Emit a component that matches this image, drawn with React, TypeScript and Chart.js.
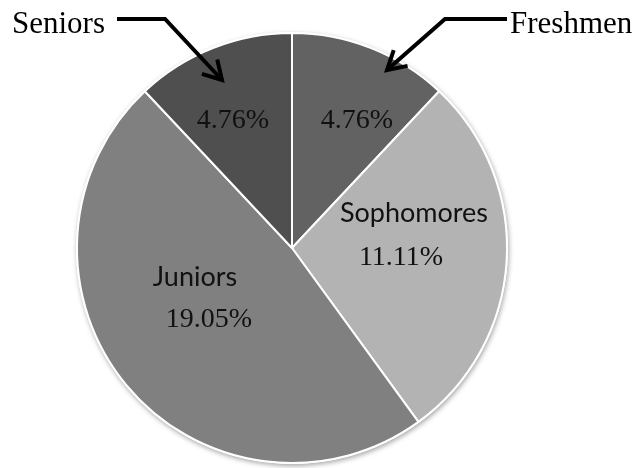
import React, { useEffect, useRef } from "react";
import { Chart, registerables } from "chart.js";

Chart.register(...registerables);

const categories = ["Freshmen", "Sophomores", "Juniors", "Seniors"];
const percentValues = [4.76, 11.11, 19.05, 4.76];
const percentLabels = ["4.76%", "11.11%", "19.05%", "4.76%"];
const sliceColors = ["#626262", "#b3b3b3", "#808080", "#4f4f4f"];

const SERIF = '"Liberation Serif"';
const SANS = "Lato";

// label placement relative to the pie centre (px): [nameDx, nameDy, pctDx, pctDy, showName]
const labelOffsets: Array<[number, number, number, number, boolean]> = [
  [0, 0, 65, -120, false],
  [122, -26, 109, 17, true],
  [-97, 38, -83, 79, true],
  [0, 0, -59, -120, false],
];

const shadowPlugin = {
  id: "pieShadow",
  beforeDatasetsDraw(chart: any) {
    const arc = chart.getDatasetMeta(0).data[0];
    if (!arc) return;
    const { x, y, outerRadius } = arc;
    const ctx = chart.ctx;
    ctx.save();
    ctx.shadowColor = "rgba(0,0,0,0.35)";
    ctx.shadowBlur = 5;
    ctx.shadowOffsetX = 1;
    ctx.shadowOffsetY = 2;
    ctx.fillStyle = "#ffffff";
    ctx.beginPath();
    ctx.arc(x, y, outerRadius + 1, 0, Math.PI * 2);
    ctx.fill();
    ctx.restore();
  },
};

function drawArrow(ctx: CanvasRenderingContext2D, pts: number[][]) {
  ctx.beginPath();
  ctx.moveTo(pts[0][0], pts[0][1]);
  for (let i = 1; i < pts.length; i++) ctx.lineTo(pts[i][0], pts[i][1]);
  ctx.stroke();
  const [tx, ty] = pts[pts.length - 1];
  const [px, py] = pts[pts.length - 2];
  const ang = Math.atan2(py - ty, px - tx);
  const len = 21;
  const spread = (30 * Math.PI) / 180;
  ctx.beginPath();
  ctx.moveTo(tx + len * Math.cos(ang - spread), ty + len * Math.sin(ang - spread));
  ctx.lineTo(tx, ty);
  ctx.lineTo(tx + len * Math.cos(ang + spread), ty + len * Math.sin(ang + spread));
  ctx.stroke();
}

const labelPlugin = {
  id: "pieLabels",
  afterDraw(chart: any) {
    const meta = chart.getDatasetMeta(0);
    const ctx: CanvasRenderingContext2D = chart.ctx;
    ctx.save();
    ctx.fillStyle = "#111";
    ctx.textAlign = "center";
    ctx.textBaseline = "alphabetic";
    meta.data.forEach((arc: any, i: number) => {
      const [ndx, ndy, pdx, pdy, showName] = labelOffsets[i];
      ctx.font = "28px " + SERIF;
      ctx.fillText(percentLabels[i], arc.x + pdx, arc.y + pdy);
      if (showName) {
        ctx.font = "27px " + SANS;
        ctx.fillText(categories[i], arc.x + ndx, arc.y + ndy);
      }
    });

    // callouts
    ctx.fillStyle = "#000";
    ctx.font = "31px " + SERIF;
    ctx.textAlign = "left";
    ctx.fillText(categories[3], 12, 33);
    ctx.fillText(categories[0], 510, 33);

    ctx.strokeStyle = "#000";
    ctx.lineWidth = 4;
    ctx.lineJoin = "miter";
    ctx.lineCap = "butt";
    drawArrow(ctx, [
      [117, 19],
      [165, 19],
      [222, 80],
    ]);
    drawArrow(ctx, [
      [507, 19],
      [445, 19],
      [387, 70],
    ]);
    ctx.restore();
  },
};

export default function App() {
  const canvasRef = useRef<HTMLCanvasElement | null>(null);

  useEffect(() => {
    if (!canvasRef.current) return;
    const chart = new Chart(canvasRef.current, {
      type: "pie",
      data: {
        labels: categories,
        datasets: [
          {
            data: percentValues,
            backgroundColor: sliceColors,
            borderColor: "#ffffff",
            borderWidth: 2,
          },
        ],
      },
      options: {
        animation: false,
        responsive: false,
        layout: { padding: { left: 76, right: 133, top: 32, bottom: 4 } },
        plugins: {
          legend: { display: false },
          tooltip: { enabled: false },
          title: { display: false },
        },
      },
      plugins: [shadowPlugin, labelPlugin],
    });
    return () => chart.destroy();
  }, []);

  return (
    <div style={{ position: "absolute", left: 0, top: 0, width: 641, height: 468, background: "#fff" }}>
      <canvas ref={canvasRef} width={641} height={468} style={{ display: "block" }} />
    </div>
  );
}
